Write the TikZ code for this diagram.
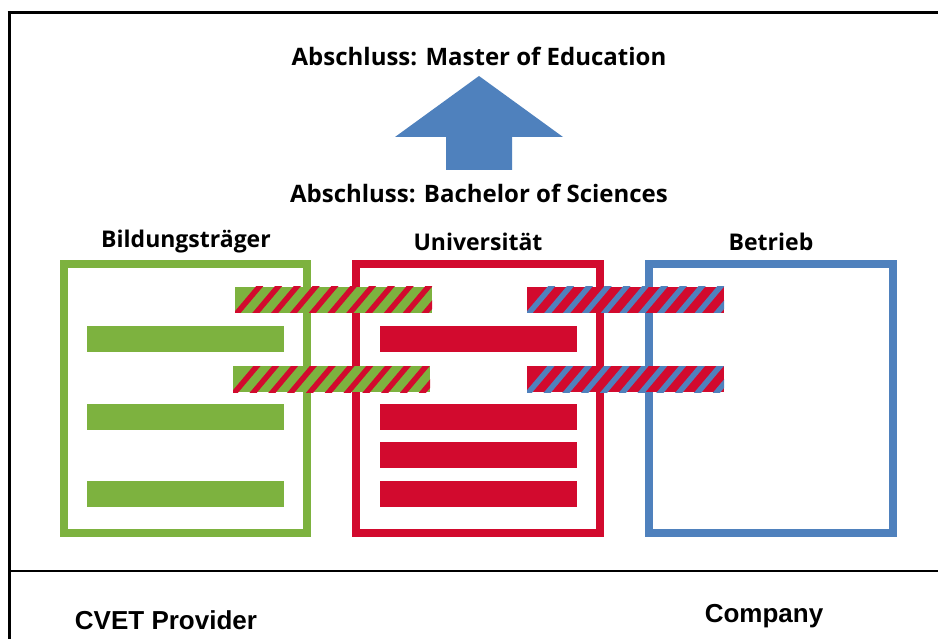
\documentclass[tikz,border=0pt]{standalone}
\usepackage{fontspec}
\setmainfont{Liberation Sans}
\newfontfamily\myriad{Open Sans}
\definecolor{cgreen}{HTML}{7DB23F}
\definecolor{cred}{HTML}{D20A2E}
\definecolor{cblue}{HTML}{4F81BD}
\newcommand{\hatchbar}[6]{%
  \fill[#5] (#1,#2) rectangle (#3,#4);
  \begin{scope}
    \clip (#1,#2) rectangle (#3,#4);
    \foreach \k in {0,...,11}
      \draw[#6, line width=5.5pt, line cap=round] ({#1+\k*18.8-0.5},{#4+3}) -- ++(27,-32);
  \end{scope}}
\begin{document}
\begin{tikzpicture}[x=1pt,y=-1pt,
  title/.style={font=\myriad\bfseries\fontsize{24}{28}\selectfont, inner sep=0pt, anchor=center},
  coltitle/.style={font=\myriad\bfseries\fontsize{23}{27}\selectfont, inner sep=0pt, anchor=center},
  foot/.style={font=\bfseries\fontsize{26}{30}\selectfont, inner sep=0pt, anchor=center},
  boxline/.style={line width=8pt},
  frame/.style={line width=3pt, black}]
\useasboundingbox (0,0) rectangle (938,639);
\fill[white] (0,0) rectangle (938,639);
% outer frame
\draw[frame] (9,11) -- (9,639);
\draw[frame] (7.5,12.5) -- (938,12.5);
\draw[line width=2pt] (9,571) -- (938,571);
% titles
\node[title] (master) at (479,56) {Abschluss: Master of Education};
\node[title] (bachelor) at (479,193) {Abschluss: Bachelor of Sciences};
% arrow
\fill[cblue] (479,76) -- (563,137) -- (512,137) -- (512,170) -- (446,170) -- (446,137) -- (395,137) -- cycle;
% column titles
\node[coltitle] (bild) at (186,242) {Bildungsträger};
\node[coltitle] (uni) at (478,242) {Universität};
\node[coltitle] (betr) at (771,242) {Betrieb};
% boxes
\draw[boxline, cgreen] (64,264) rectangle (307,533);
\draw[boxline, cred] (356,264) rectangle (600,533);
\draw[boxline, cblue] (649,264) rectangle (893,533);
% green bars
\fill[cgreen] (87,326) rectangle (284,352);
\fill[cgreen] (87,404) rectangle (284,430);
\fill[cgreen] (87,481) rectangle (284,507);
% red bars
\fill[cred] (380,326) rectangle (577,352);
\fill[cred] (380,404) rectangle (577,430);
\fill[cred] (380,442) rectangle (577,468);
\fill[cred] (380,481) rectangle (577,507);
% hatched bars
\hatchbar{235}{287}{432}{313}{cgreen}{cred}
\hatchbar{233}{366}{430}{392}{cgreen}{cred}
\hatchbar{527}{287}{724}{313}{cred}{cblue}
\hatchbar{527}{366}{724}{392}{cred}{cblue}
% footer
\node[foot] (cvet) at (166,620) {CVET Provider};
\node[foot] (comp) at (764,616) {Company};
\end{tikzpicture}
\end{document}
